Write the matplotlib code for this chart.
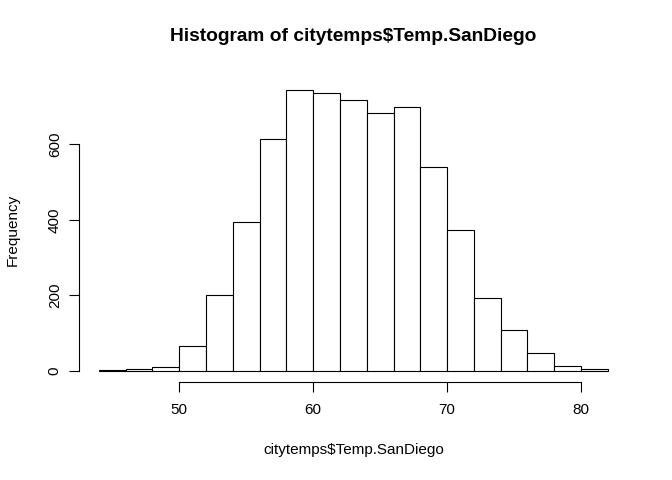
import numpy as np
import matplotlib
matplotlib.use("Agg")
import matplotlib.pyplot as plt

plt.rcParams['font.family'] = ['Liberation Sans', 'DejaVu Sans']

bin_edges = [44, 46, 48, 50, 52, 54, 56, 58, 60, 62, 64, 66, 68, 70, 72, 74, 76, 78, 80, 82]
counts = [1, 4, 10, 65, 202, 394, 614, 745, 735, 717, 684, 700, 541, 372, 194, 109, 47, 13, 4]
x_ticks = [50, 60, 70, 80]
y_ticks = [0, 200, 400, 600]
title = r"Histogram of citytemps\$Temp.SanDiego"
xlabel = r"citytemps\$Temp.SanDiego"
ylabel = "Frequency"

W, H = 672, 480
fig = plt.figure(figsize=(W / 100, H / 100), dpi=100)
left, right, top, bottom = 78.5, 628.2, 78.4, 382.0
ax = fig.add_axes([left / W, 1 - bottom / H, (right - left) / W, (bottom - top) / H])

edges = np.array(bin_edges, dtype=float)
ax.bar(edges[:-1], counts, width=np.diff(edges), align='edge',
       facecolor='white', edgecolor='black', linewidth=0.8)

xr = edges[-1] - edges[0]
ax.set_xlim(edges[0] - 0.04 * xr, edges[-1] + 0.04 * xr)
ymax = max(counts)
ax.set_ylim(-0.04 * ymax, ymax * 1.04)

for s in ['top', 'right']:
    ax.spines[s].set_visible(False)
ax.spines['left'].set_bounds(y_ticks[0], y_ticks[-1])
ax.spines['bottom'].set_bounds(x_ticks[0], x_ticks[-1])
for s in ['left', 'bottom']:
    ax.spines[s].set_linewidth(0.8)

ax.set_xticks(x_ticks)
ax.set_yticks(y_ticks)
ax.set_yticklabels([str(v) for v in y_ticks], rotation=90, va='center')
ax.tick_params(axis='both', length=7, width=0.8, labelsize=11)
ax.tick_params(axis='x', pad=8)
ax.tick_params(axis='y', pad=5)

cx = left / W + (right - left) / W / 2
fig.text(cx, 1 - 41 / H, title, ha='center', va='baseline',
         fontsize=13.8, fontweight='bold')
fig.text(cx, 1 - 454 / H, xlabel, ha='center', va='baseline', fontsize=11)
fig.text(17 / W, 1 - ((top + bottom) / 2) / H, ylabel, ha='center', va='baseline',
         fontsize=11, rotation=90, rotation_mode='anchor')

fig.savefig("out.png", dpi=100)
